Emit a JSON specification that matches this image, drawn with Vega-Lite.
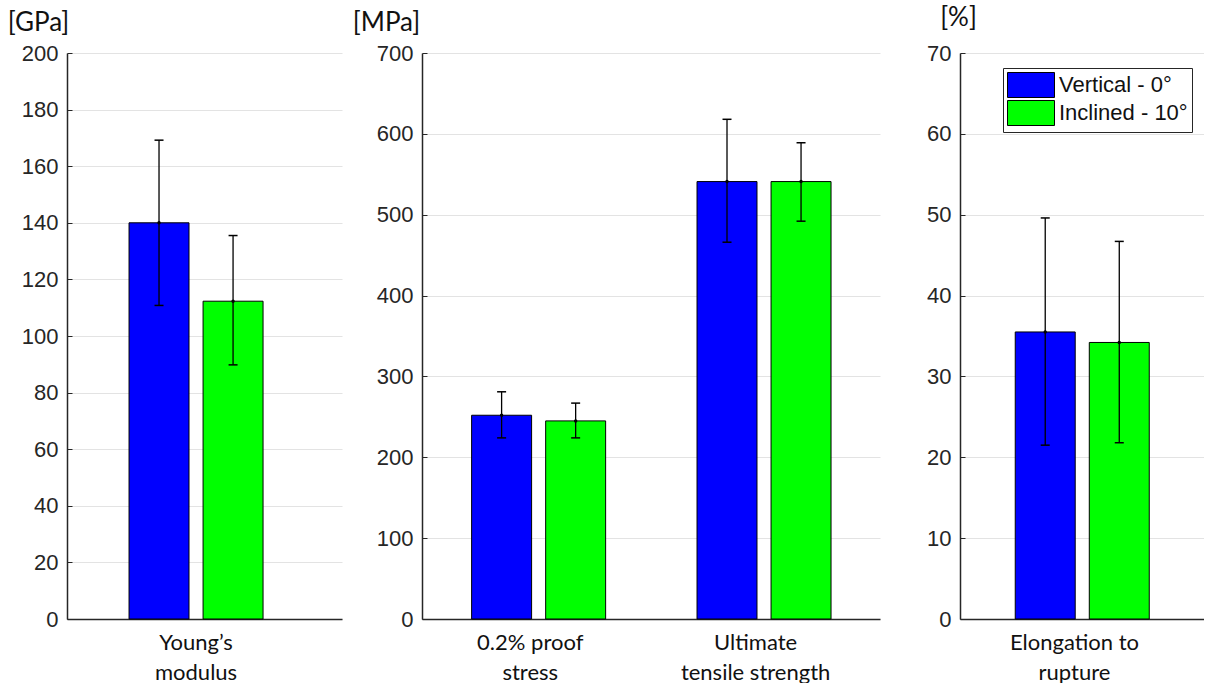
{
  "$schema": "https://vega.github.io/schema/vega-lite/v6.json",
  "background": "white",
  "padding": {"left": 7, "top": 4, "right": 0, "bottom": 0},
  "bounds": "flush",
  "spacing": 80,
  "datasets": {
    "rows": [
      {"panel": "young", "category": "Young’s modulus", "series": "Vertical - 0°", "value": 140, "lo": 110.8, "hi": 169.2},
      {"panel": "young", "category": "Young’s modulus", "series": "Inclined - 10°", "value": 112.3, "lo": 89.8, "hi": 135.5},
      {"panel": "stress", "category": "0.2% proof stress", "series": "Vertical - 0°", "value": 252, "lo": 224, "hi": 281},
      {"panel": "stress", "category": "0.2% proof stress", "series": "Inclined - 10°", "value": 245, "lo": 224, "hi": 267},
      {"panel": "stress", "category": "Ultimate tensile strength", "series": "Vertical - 0°", "value": 541, "lo": 466, "hi": 618},
      {"panel": "stress", "category": "Ultimate tensile strength", "series": "Inclined - 10°", "value": 541, "lo": 492, "hi": 589},
      {"panel": "elong", "category": "Elongation to rupture", "series": "Vertical - 0°", "value": 35.5, "lo": 21.5, "hi": 49.6},
      {"panel": "elong", "category": "Elongation to rupture", "series": "Inclined - 10°", "value": 34.2, "lo": 21.8, "hi": 46.7}
    ]
  },
  "resolve": {"scale": {"color": "independent"}, "legend": {"color": "independent"}},
  "hconcat": [
    {
      "width": 275,
      "height": 566,
      "data": {"name": "rows"},
      "transform": [{"filter": "datum.panel == 'young'"}],
      "encoding": {
        "x": {"field": "category", "type": "nominal", "title": null,
          "scale": {"paddingInner": 0, "paddingOuter": 0.526, "align": 0.44},
          "axis": {"labelAngle": 0, "ticks": false, "domainColor": "#262626", "domainWidth": 1.5, "labelFont": "Lato", "labelFontSize": 22, "labelColor": "#111", "labelLineHeight": 30, "labelPadding": 13, "labelBaseline": "top",
            "labelExpr": "datum.value == 'Young’s modulus' ? ['Young’s','modulus'] : datum.value == '0.2% proof stress' ? ['0.2% proof','stress'] : datum.value == 'Ultimate tensile strength' ? ['Ultimate','tensile strength'] : ['Elongation to','rupture']"}},
        "xOffset": {"field": "series", "type": "nominal", "sort": ["Vertical - 0°", "Inclined - 10°"], "scale": {"paddingInner": 0.19, "paddingOuter": 0}}
      },
      "layer": [
        {
          "mark": {"type": "bar", "stroke": "black", "strokeWidth": 1, "opacity": 1},
          "encoding": {
            "y": {"field": "value", "type": "quantitative", "title": "[GPa]",
              "scale": {"domain": [0, 200], "nice": false},
              "axis": {"values": [0, 20, 40, 60, 80, 100, 120, 140, 160, 180, 200], "titleAngle": 0, "titleAlign": "center", "titleBaseline": "alphabetic", "titleX": -29, "titleY": -23, "titleFont": "Lato", "titleFontSize": 26, "titleFontWeight": "normal", "titleColor": "#111",
                "grid": true, "gridColor": "#e3e3e3", "labelFont": "Liberation Sans", "labelFontSize": 22, "labelColor": "#262626", "domainColor": "#262626", "domainWidth": 1.5, "tickColor": "#262626", "tickSize": -5, "labelPadding": 14}},
            "color": {"field": "series", "type": "nominal", "scale": {"domain": ["Vertical - 0°", "Inclined - 10°"], "range": ["#0000FF", "#00FF00"]}, "legend": null}
          }
        },
        {
          "mark": {"type": "rule", "color": "black", "strokeWidth": 1.3},
          "encoding": {"y": {"field": "lo", "type": "quantitative", "title": "[GPa]"}, "y2": {"field": "hi"}}
        },
        {
          "mark": {"type": "tick", "color": "black", "size": 9, "thickness": 1.5, "opacity": 1},
          "encoding": {"y": {"field": "lo", "type": "quantitative", "title": "[GPa]"}}
        },
        {
          "mark": {"type": "tick", "color": "black", "size": 9, "thickness": 1.5, "opacity": 1},
          "encoding": {"y": {"field": "hi", "type": "quantitative", "title": "[GPa]"}}
        },
        {
          "mark": {"type": "point", "filled": true, "color": "black", "size": 12, "opacity": 1},
          "encoding": {"y": {"field": "value", "type": "quantitative", "title": "[GPa]"}}
        }
      ]
    },
    {
      "width": 458,
      "height": 566,
      "data": {"name": "rows"},
      "transform": [{"filter": "datum.panel == 'stress'"}],
      "encoding": {
        "x": {"field": "category", "type": "nominal", "title": null, "sort": ["0.2% proof stress", "Ultimate tensile strength"],
          "scale": {"paddingInner": 0.48, "paddingOuter": 0.256, "align": 0.43},
          "axis": {"labelAngle": 0, "ticks": false, "domainColor": "#262626", "domainWidth": 1.5, "labelFont": "Lato", "labelFontSize": 22, "labelColor": "#111", "labelLineHeight": 30, "labelPadding": 13, "labelBaseline": "top",
            "labelExpr": "datum.value == 'Young’s modulus' ? ['Young’s','modulus'] : datum.value == '0.2% proof stress' ? ['0.2% proof','stress'] : datum.value == 'Ultimate tensile strength' ? ['Ultimate','tensile strength'] : ['Elongation to','rupture']"}},
        "xOffset": {"field": "series", "type": "nominal", "sort": ["Vertical - 0°", "Inclined - 10°"], "scale": {"paddingInner": 0.2, "paddingOuter": 0}}
      },
      "layer": [
        {
          "mark": {"type": "bar", "stroke": "black", "strokeWidth": 1, "opacity": 1},
          "encoding": {
            "y": {"field": "value", "type": "quantitative", "title": "[MPa]",
              "scale": {"domain": [0, 700], "nice": false},
              "axis": {"values": [0, 100, 200, 300, 400, 500, 600, 700], "titleAngle": 0, "titleAlign": "center", "titleBaseline": "alphabetic", "titleX": -36, "titleY": -23, "titleFont": "Lato", "titleFontSize": 26, "titleFontWeight": "normal", "titleColor": "#111",
                "grid": true, "gridColor": "#e3e3e3", "labelFont": "Liberation Sans", "labelFontSize": 22, "labelColor": "#262626", "domainColor": "#262626", "domainWidth": 1.5, "tickColor": "#262626", "tickSize": -5, "labelPadding": 14}},
            "color": {"field": "series", "type": "nominal", "scale": {"domain": ["Vertical - 0°", "Inclined - 10°"], "range": ["#0000FF", "#00FF00"]}, "legend": null}
          }
        },
        {
          "mark": {"type": "rule", "color": "black", "strokeWidth": 1.3},
          "encoding": {"y": {"field": "lo", "type": "quantitative", "title": "[MPa]"}, "y2": {"field": "hi"}}
        },
        {
          "mark": {"type": "tick", "color": "black", "size": 9, "thickness": 1.5, "opacity": 1},
          "encoding": {"y": {"field": "lo", "type": "quantitative", "title": "[MPa]"}}
        },
        {
          "mark": {"type": "tick", "color": "black", "size": 9, "thickness": 1.5, "opacity": 1},
          "encoding": {"y": {"field": "hi", "type": "quantitative", "title": "[MPa]"}}
        },
        {
          "mark": {"type": "point", "filled": true, "color": "black", "size": 12, "opacity": 1},
          "encoding": {"y": {"field": "value", "type": "quantitative", "title": "[MPa]"}}
        }
      ]
    },
    {
      "width": 244,
      "height": 566,
      "data": {"name": "rows"},
      "transform": [{"filter": "datum.panel == 'elong'"}],
      "encoding": {
        "x": {"field": "category", "type": "nominal", "title": null,
          "scale": {"paddingInner": 0, "paddingOuter": 0.53, "align": 0.44},
          "axis": {"labelAngle": 0, "ticks": false, "domainColor": "#262626", "domainWidth": 1.5, "labelFont": "Lato", "labelFontSize": 22, "labelColor": "#111", "labelLineHeight": 30, "labelPadding": 13, "labelBaseline": "top",
            "labelExpr": "datum.value == 'Young’s modulus' ? ['Young’s','modulus'] : datum.value == '0.2% proof stress' ? ['0.2% proof','stress'] : datum.value == 'Ultimate tensile strength' ? ['Ultimate','tensile strength'] : ['Elongation to','rupture']"}},
        "xOffset": {"field": "series", "type": "nominal", "sort": ["Vertical - 0°", "Inclined - 10°"], "scale": {"paddingInner": 0.21, "paddingOuter": 0}}
      },
      "layer": [
        {
          "mark": {"type": "bar", "stroke": "black", "strokeWidth": 1, "opacity": 1},
          "encoding": {
            "y": {"field": "value", "type": "quantitative", "title": "[%]",
              "scale": {"domain": [0, 70], "nice": false},
              "axis": {"values": [0, 10, 20, 30, 40, 50, 60, 70], "titleAngle": 0, "titleAlign": "center", "titleBaseline": "alphabetic", "titleX": -2, "titleY": -28, "titleFont": "Lato", "titleFontSize": 26, "titleFontWeight": "normal", "titleColor": "#111",
                "grid": true, "gridColor": "#e3e3e3", "labelFont": "Liberation Sans", "labelFontSize": 22, "labelColor": "#262626", "domainColor": "#262626", "domainWidth": 1.5, "tickColor": "#262626", "tickSize": -5, "labelPadding": 14}},
            "color": {"field": "series", "type": "nominal", "scale": {"domain": ["Vertical - 0°", "Inclined - 10°"], "range": ["#0000FF", "#00FF00"]},
              "legend": {"title": null, "orient": "none", "legendX": 43, "legendY": 15, "direction": "vertical", "strokeColor": "#262626", "fillColor": "white", "padding": 4,
                "symbolType": "M-1.88,-1H1.88V1H-1.88Z", "symbolSize": 625, "symbolOffset": 11, "symbolStrokeColor": "black", "symbolStrokeWidth": 1, "symbolOpacity": 1,
                "labelFont": "Liberation Sans", "labelFontSize": 22, "labelColor": "#111", "labelOffset": 15, "rowPadding": -3, "labelLimit": 300}}
          }
        },
        {
          "mark": {"type": "rule", "color": "black", "strokeWidth": 1.3},
          "encoding": {"y": {"field": "lo", "type": "quantitative", "title": "[%]"}, "y2": {"field": "hi"}}
        },
        {
          "mark": {"type": "tick", "color": "black", "size": 9, "thickness": 1.5, "opacity": 1},
          "encoding": {"y": {"field": "lo", "type": "quantitative", "title": "[%]"}}
        },
        {
          "mark": {"type": "tick", "color": "black", "size": 9, "thickness": 1.5, "opacity": 1},
          "encoding": {"y": {"field": "hi", "type": "quantitative", "title": "[%]"}}
        },
        {
          "mark": {"type": "point", "filled": true, "color": "black", "size": 12, "opacity": 1},
          "encoding": {"y": {"field": "value", "type": "quantitative", "title": "[%]"}}
        }
      ]
    }
  ],
  "config": {"view": {"stroke": null}}
}
